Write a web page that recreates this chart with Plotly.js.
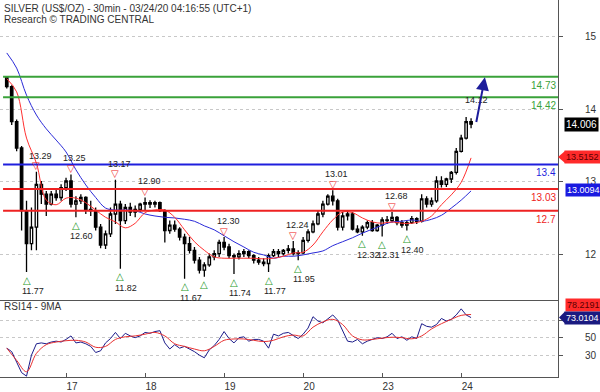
<!DOCTYPE html>
<html><head><meta charset="utf-8">
<script src="https://cdn.plot.ly/plotly-3.0.1.min.js"></script>
<style>html,body{margin:0;padding:0;background:#fff}#chart{width:600px;height:392px}</style>
</head><body><div id="chart"></div>
<script>
// ---- data ----
const dayLabels = ["17","18","19","20","23","24"];
const priceTickLabels = ["12","13","14","15"];
const rsiTickLabels = ["30","50",""];

const openP  = [14.72,14.58,14.05,13.65,12.70,12.20,12.45,13.10,12.95,12.80,
                12.95,12.90,13.05,13.15,12.80,12.85,12.90,12.72,12.70,12.45,
                12.18,12.35,12.65,12.80,12.55,12.75,12.68,12.72,12.80,12.82,
                12.80,12.82,12.70,12.40,12.48,12.42,12.30,12.20,12.10,11.95,
                11.80,11.88,12.00,12.05,12.22,12.15,12.02,12.00,12.05,12.08,
                12.02,11.95,11.92,11.90,12.02,12.08,12.05,12.10,12.12,12.05,
                12.06,12.25,12.38,12.50,12.65,12.80,12.92,12.85,12.45,12.62,
                12.65,12.42,12.38,12.45,12.52,12.40,12.48,12.56,12.55,12.60,
                12.52,12.48,12.52,12.58,12.54,12.88,12.80,12.85,13.15,13.10,
                13.18,13.28,13.60,13.80,14.05];
const highP  = [14.74,14.60,14.08,13.68,12.85,12.75,13.29,13.15,13.00,13.00,
                13.02,13.10,13.20,13.25,12.92,12.95,12.92,12.85,12.75,12.50,
                12.40,12.75,13.17,12.85,12.80,12.82,12.78,12.82,12.90,12.86,
                12.85,12.84,12.72,12.55,12.55,12.45,12.35,12.30,12.15,12.00,
                11.92,12.05,12.10,12.26,12.30,12.20,12.05,12.10,12.12,12.10,
                12.04,12.00,11.98,12.05,12.12,12.12,12.12,12.18,12.24,12.10,
                12.30,12.42,12.55,12.70,12.85,12.95,13.01,12.88,12.68,12.70,
                12.68,12.48,12.48,12.55,12.56,12.50,12.60,12.62,12.68,12.62,
                12.56,12.55,12.62,12.60,12.95,12.92,12.90,13.22,13.22,13.20,
                13.30,13.65,13.85,14.12,14.10];
const lowP   = [14.55,14.00,13.60,12.40,11.77,12.10,12.10,12.80,12.62,12.78,
                12.85,12.85,13.00,12.75,12.60,12.80,12.65,12.62,12.40,12.13,
                12.12,12.30,12.50,11.82,12.50,12.62,12.60,12.68,12.70,12.74,
                12.75,12.68,12.22,12.35,12.38,12.25,11.67,12.05,11.90,11.75,
                11.70,11.85,11.95,12.00,12.10,11.98,11.74,11.96,12.00,11.98,
                11.90,11.88,11.86,11.77,12.00,12.00,12.02,12.05,12.02,11.95,
                12.04,12.22,12.36,12.48,12.60,12.78,12.78,12.40,12.40,12.55,
                12.40,12.36,12.32,12.42,12.38,12.38,12.31,12.50,12.52,12.48,
                12.44,12.40,12.50,12.50,12.52,12.75,12.76,12.82,13.05,13.06,
                13.12,13.25,13.58,13.78,13.95];
const closeP = [14.58,14.05,13.65,12.70,12.20,12.45,13.10,12.95,12.80,12.95,
                12.90,13.05,13.15,12.80,12.85,12.90,12.72,12.70,12.45,12.18,
                12.35,12.65,12.80,12.55,12.75,12.68,12.72,12.80,12.82,12.80,
                12.82,12.70,12.40,12.48,12.42,12.30,12.20,12.10,11.95,11.80,
                11.88,12.00,12.05,12.22,12.15,12.02,12.00,12.05,12.08,12.02,
                11.95,11.92,11.90,12.02,12.08,12.05,12.10,12.12,12.05,12.06,
                12.25,12.38,12.50,12.65,12.80,12.92,12.85,12.45,12.62,12.65,
                12.42,12.38,12.45,12.52,12.40,12.48,12.56,12.55,12.60,12.52,
                12.48,12.52,12.58,12.54,12.88,12.80,12.85,13.15,13.10,13.18,
                13.28,13.60,13.80,14.05,14.01];

// moving averages, one value every 2 bars
const maFast = [14.70,14.50,13.80,13.42,12.86,12.79,12.89,12.89,12.82,12.71,
                12.60,12.53,12.44,12.51,12.67,12.71,12.71,12.60,12.41,12.23,
                12.10,12.00,11.98,11.98,11.98,11.98,11.97,11.98,12.01,12.06,
                12.07,12.18,12.38,12.56,12.68,12.67,12.59,12.53,12.51,12.53,
                12.51,12.51,12.54,12.62,12.79,12.94,13.13,13.50];
const maSlow = [15.09,14.86,14.45,14.15,13.94,13.77,13.59,13.32,13.09,12.90,
                12.74,12.71,12.71,12.70,12.65,12.62,12.60,12.59,12.57,12.54,
                12.47,12.41,12.32,12.23,12.15,12.07,12.03,11.98,12.01,12.01,
                12.03,12.06,12.09,12.17,12.23,12.29,12.36,12.42,12.48,12.53,
                12.54,12.56,12.54,12.57,12.63,12.74,12.86,13.00];

const rsi = [38,34,22,10,6,30,43,44,43,45,
             46,45,48,52,44,45,43,40,33,35,
             44,49,56,49,55,52,50,52,56,55,
             57,58,44,37,42,38,40,37,34,30,
             27,36,41,48,57,49,44,50,51,46,
             48,48,46,38,54,52,55,56,52,49,
             54,61,74,69,67,71,76,70,58,46,
             45,48,43,46,48,50,49,51,55,49,
             51,47,51,49,66,63,62,65,72,69,
             71,76,83,76,73];
const rsiMA = [38,24,11,32,42,45,46.5,47,45,39,
               40,48,51,52,54,56,52,43,40,37,
               35,40,47,48.5,48.5,47,45.5,47,51,53,
               52,62,68,71,65,52,47.5,48,49.5,50.5,
               50,48.7,52,60,66,71,75.5,76.5];

const levelValues = [14.73,14.42,13.4,13.03,12.7];
const levelLabels = ["14.73","14.42","13.4","13.03","12.7"];
const levelColors = ["#3aa23a","#3aa23a","#1f1fdd","#ee2222","#ee2222"];

const peakIdx = [6,13,22,28,44,58,66,78];
const peakVal = [13.29,13.25,13.17,12.90,12.30,12.24,13.01,12.68];
const peakLabels = ["13.29","13.25","13.17","12.90","12.30","12.24","13.01","12.68"];
const troughIdx = [4,14,23,36,40,46,53,59,72,76,81];
const troughVal = [11.77,12.60,11.82,11.67,11.70,11.74,11.77,11.95,12.32,12.31,12.40];
const troughLabels = ["11.77","12.60","11.82","11.67","","11.74","11.77","11.95","12.32","12.31","12.40"];

const lastPrice = 14.006, lastMaFast = 13.5152, lastMaSlow = 13.0094;
const lastRsiMA = 78.2191, lastRsi = 73.0104;
const recentHigh = "14.12";
const targetFrom = [95, 14.02], targetTo = [96.8, 14.72];

// ---- build ----
const FONT = "Liberation Sans, Arial, sans-serif";
const idx = closeP.map((_, i) => i);
const idx2 = maFast.map((_, i) => i * 2);

const traces = [
  {type:'candlestick', x: idx, open: openP, high: highP, low: lowP, close: closeP,
   xaxis:'x', yaxis:'y', whiskerwidth:0,
   increasing:{line:{color:'#000', width:1.3}, fillcolor:'#fff'},
   decreasing:{line:{color:'#000', width:1.3}, fillcolor:'#000'},
   hoverinfo:'skip', showlegend:false},
  {type:'scatter', mode:'lines', x: idx2, y: maSlow, line:{color:'#2a2ad8', width:1, shape:'spline'}, xaxis:'x', yaxis:'y', showlegend:false, hoverinfo:'skip'},
  {type:'scatter', mode:'lines', x: idx2, y: maFast, line:{color:'#ff3030', width:1, shape:'spline'}, xaxis:'x', yaxis:'y', showlegend:false, hoverinfo:'skip'},
  {type:'scatter', mode:'lines', x: idx, y: rsi, line:{color:'#1c1c8a', width:1}, xaxis:'x2', yaxis:'y2', showlegend:false, hoverinfo:'skip'},
  {type:'scatter', mode:'lines', x: idx2, y: rsiMA, line:{color:'#e83030', width:1, shape:'spline'}, xaxis:'x2', yaxis:'y2', showlegend:false, hoverinfo:'skip'}
];

const shapes = [];
const annotations = [];
levelValues.forEach((v, k) => {
  shapes.push({type:'line', xref:'x', yref:'y', x0:-0.75, x1:111.6, y0:v, y1:v,
               line:{color: levelColors[k], width:2}, layer:'above'});
  annotations.push({xref:'paper', x:1, xanchor:'right', yref:'y', y:v, yanchor:'top', yshift:-1,
                    text: levelLabels[k], showarrow:false, font:{family:FONT, size:10, color: levelColors[k]}});
});
peakIdx.forEach((p, k) => {
  annotations.push({x:p, y:peakVal[k], xref:'x', yref:'y', text:'▽', showarrow:false, yshift:6,
                    font:{family:'DejaVu Sans', size:10, color:'#ee2222'}});
  annotations.push({x:p, y:peakVal[k], xref:'x', yref:'y', text:peakLabels[k], showarrow:false, yshift:16, xshift:4,
                    font:{family:FONT, size:9, color:'#222'}});
});
troughIdx.forEach((p, k) => {
  annotations.push({x:p, y:troughVal[k], xref:'x', yref:'y', text:'△', showarrow:false, yshift:-8,
                    font:{family:'DejaVu Sans', size:10, color:'#2a9a2a'}});
  if (troughLabels[k]) annotations.push({x:p, y:troughVal[k], xref:'x', yref:'y', text:troughLabels[k], showarrow:false, yshift:-19, xshift:6,
                    font:{family:FONT, size:9, color:'#222'}});
});
annotations.push({x:93, y:highP[93], xref:'x', yref:'y', text:recentHigh, showarrow:false, yshift:17, xshift:10,
                  font:{family:FONT, size:9, color:'#222'}});
annotations.push({x:targetTo[0], y:targetTo[1], ax:targetFrom[0], ay:targetFrom[1], axref:'x', ayref:'y',
                  xref:'x', yref:'y', text:'', showarrow:true, arrowhead:2, arrowsize:1.3, arrowwidth:2, arrowcolor:'#1d1d9b'});

// value boxes on the right
function box(yref, v, txt, bg, fg, xs, ys, fs) {
  annotations.push({xref:'paper', x:1, xanchor:'left', xshift:xs, yref:yref, y:v, yshift:ys||0, text:txt, showarrow:false,
                    bgcolor:bg, borderpad:1, font:{family:FONT, size:fs||9, color:fg}});
}
box('y', lastPrice, lastPrice.toFixed(3), '#000', '#fff', 6, 0, 10);
box('y', lastMaFast, lastMaFast.toFixed(4), '#ff2a2a', '#5a0000', 6);
box('y', lastMaSlow, lastMaSlow.toFixed(4), '#1a1ae0', '#fff', 7);
box('y2', lastRsiMA, lastRsiMA.toFixed(4), '#ff2a2a', '#5a0000', 7, 8);
box('y2', lastRsi, lastRsi.toFixed(4), '#1a1a80', '#fff', 6);
shapes.push({type:'path', xref:'paper', xanchor:1, xsizemode:'pixel', yref:'y', yanchor:lastMaFast, ysizemode:'pixel',
             path:'M 0 0 L 7 6 L 7 -6 Z', fillcolor:'#ff2a2a', line:{width:0}});
shapes.push({type:'path', xref:'paper', xanchor:1, xsizemode:'pixel', yref:'y2', yanchor:lastRsi, ysizemode:'pixel',
             path:'M 1 0 L 7 6 L 7 -6 Z', fillcolor:'#1a1a80', line:{width:0}});

// titles (plot area is 377 px tall)
annotations.push({xref:'paper', yref:'paper', x:0, y:(377-8)/377, xanchor:'left', yanchor:'middle', xshift:2, showarrow:false,
  text:'SILVER (US$/OZ) - 30min - 03/24/20 04:16:55 (UTC+1)', font:{family:FONT, size:10, color:'#333'}});
annotations.push({xref:'paper', yref:'paper', x:0, y:(377-19)/377, xanchor:'left', yanchor:'middle', xshift:2, showarrow:false,
  text:'Research © TRADING CENTRAL', font:{family:FONT, size:10, color:'#333'}});
annotations.push({xref:'paper', yref:'paper', x:0, y:(377-306)/377, xanchor:'left', yanchor:'middle', xshift:2, showarrow:false,
  text:'RSI14 - 9MA', font:{family:FONT, size:10, color:'#333'}});

const axLine = '#555';
const splitY = 77/377;
const layout = {
  width:600, height:392, margin:{l:0, r:42, t:0, b:15},
  paper_bgcolor:'#fff', plot_bgcolor:'#fff', showlegend:false,
  font:{family:FONT, size:10, color:'#333'},
  xaxis:{domain:[0,1], anchor:'y', range:[-1.37,111.6], showline:true, linecolor:axLine, linewidth:1,
         showticklabels:false, ticks:'', showgrid:false, zeroline:false, rangeslider:{visible:false}, fixedrange:true},
  xaxis2:{domain:[0,1], anchor:'y2', matches:'x', range:[-1.37,111.6], showline:true, linecolor:axLine, linewidth:1,
          tickmode:'array', tickvals:[12,28,44,60,76,92], ticktext:dayLabels, ticks:'inside', ticklen:4, tickcolor:axLine,
          showgrid:false, zeroline:false, ticklabelshift:6, tickfont:{family:FONT, size:10, color:'#333'}},
  yaxis:{domain:[splitY,1], anchor:'x', side:'right', range:[11.347,15.892], showline:true, linecolor:axLine, linewidth:1,
         tickmode:'array', tickvals:[12.029,13.135,14.233,15.332], ticktext:priceTickLabels, ticks:'outside', ticklen:4, tickcolor:axLine,
         showgrid:true, gridcolor:'#c8c8c8', griddash:'dot', zeroline:false, ticklabelstandoff:20,
         tickfont:{family:FONT, size:10, color:'#333'}},
  yaxis2:{domain:[0,splitY], anchor:'x2', side:'right', range:[5,93.1], showline:true, linecolor:axLine, linewidth:1,
          tickmode:'array', tickvals:[30,50,70], ticktext:rsiTickLabels, ticks:'outside', ticklen:4, tickcolor:axLine,
          showgrid:true, gridcolor:'#c8c8c8', griddash:'dot', zeroline:false, ticklabelstandoff:20,
          tickfont:{family:FONT, size:10, color:'#333'}},
  shapes: shapes, annotations: annotations
};
Plotly.newPlot('chart', traces, layout, {staticPlot:true, displayModeBar:false});
</script>
</body></html>
